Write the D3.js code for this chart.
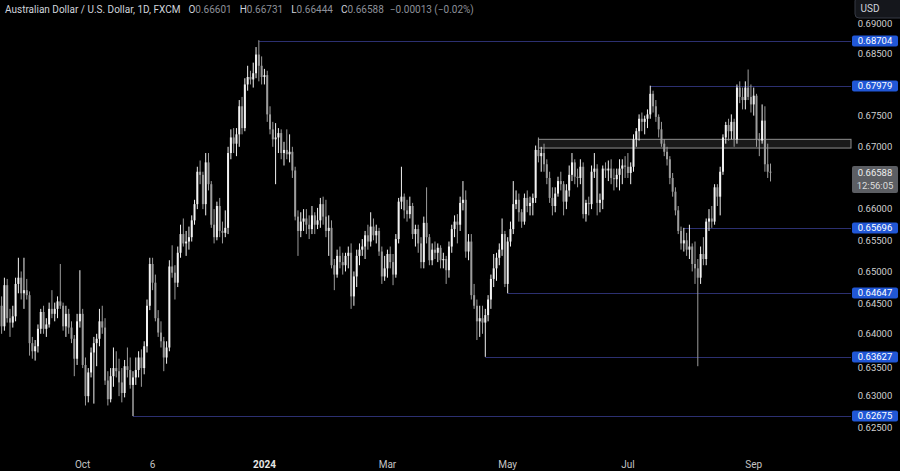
<!DOCTYPE html>
<html>
<head>
<meta charset="utf-8">
<script src="https://cdn.jsdelivr.net/npm/d3@7"></script>
<style>
html, body { margin: 0; padding: 0; background: #000; }
svg { display: block; font-family: Roboto, "Noto Sans", sans-serif; }
</style>
</head>
<body>
<div id="chart"></div>
<script>
// daily AUD/USD, 22 Aug 2023 .. 10 Sep 2024 (weekdays)
var firstDay = "2023-08-22",
    lastDay = "2024-09-10";

var opens = [
 0.6445,0.6412,0.6478,0.6425,0.6418,0.6428,0.6480,0.6490,0.6465,0.6470,
 0.6462,0.6385,0.6372,0.6380,0.6408,0.6435,0.6408,0.6415,0.6440,0.6432,
 0.6440,0.6452,0.6445,0.6412,0.6432,0.6410,0.6392,0.6360,0.6420,0.6432,
 0.6350,0.6300,0.6338,0.6370,0.6385,0.6392,0.6420,0.6410,0.6325,0.6295,
 0.6332,0.6345,0.6340,0.6322,0.6305,0.6348,0.6342,0.6318,0.6330,0.6342,
 0.6362,0.6345,0.6380,0.6445,0.6512,0.6482,0.6425,0.6402,0.6388,0.6362,
 0.6378,0.6508,0.6498,0.6482,0.6530,0.6560,0.6545,0.6548,0.6555,0.6582,
 0.6608,0.6660,0.6655,0.6608,0.6675,0.6640,0.6575,0.6555,0.6605,0.6565,
 0.6562,0.6570,0.6690,0.6715,0.6705,0.6720,0.6765,0.6730,0.6800,0.6812,
 0.6808,0.6818,0.6848,0.6830,0.6812,0.6815,0.6752,0.6728,0.6712,0.6715,
 0.6722,0.6690,0.6695,0.6688,0.6692,0.6662,0.6588,0.6565,0.6580,0.6585,
 0.6575,0.6568,0.6590,0.6575,0.6582,0.6608,0.6588,0.6565,0.6570,0.6510,
 0.6495,0.6525,0.6515,0.6510,0.6525,0.6530,0.6460,0.6492,0.6525,0.6535,
 0.6540,0.6558,0.6548,0.6572,0.6558,0.6565,0.6532,0.6492,0.6505,0.6528,
 0.6515,0.6495,0.6552,0.6612,0.6620,0.6598,0.6592,0.6605,0.6560,0.6568,
 0.6545,0.6515,0.6578,0.6555,0.6518,0.6535,0.6530,0.6538,0.6518,0.6520,
 0.6502,0.6540,0.6568,0.6580,0.6575,0.6610,0.6615,0.6532,0.6548,0.6462,
 0.6445,0.6420,0.6425,0.6418,0.6430,0.6455,0.6488,0.6505,0.6522,0.6535,
 0.6560,0.6480,0.6548,0.6568,0.6608,0.6615,0.6595,0.6580,0.6618,0.6605,
 0.6610,0.6618,0.6695,0.6685,0.6690,0.6672,0.6650,0.6618,0.6605,0.6625,
 0.6645,0.6640,0.6612,0.6630,0.6655,0.6675,0.6652,0.6650,0.6668,0.6592,
 0.6610,0.6608,0.6660,0.6665,0.6610,0.6615,0.6665,0.6662,0.6665,0.6650,
 0.6648,0.6655,0.6665,0.6670,0.6668,0.6658,0.6668,0.6712,0.6725,0.6745,
 0.6740,0.6745,0.6752,0.6785,0.6765,0.6748,0.6728,0.6705,0.6692,0.6680,
 0.6650,0.6628,0.6598,0.6565,0.6545,0.6550,0.6535,0.6540,0.6512,0.6505,
 0.6490,0.6528,0.6520,0.6580,0.6585,0.6580,0.6635,0.6620,0.6660,0.6715,
 0.6735,0.6725,0.6740,0.6712,0.6795,0.6780,0.6775,0.6795,0.6780,0.6768,
 0.6782,0.6712,0.6710,0.6742,0.6672,0.66601
];

var highs = [
 0.6460,0.6490,0.6488,0.6440,0.6445,0.6490,0.6522,0.6500,0.6522,0.6488,
 0.6468,0.6395,0.6390,0.6415,0.6440,0.6445,0.6425,0.6450,0.6470,0.6450,
 0.6460,0.6512,0.6450,0.6445,0.6440,0.6420,0.6398,0.6432,0.6502,0.6440,
 0.6362,0.6345,0.6378,0.6395,0.6400,0.6440,0.6445,0.6425,0.6340,0.6345,
 0.6378,0.6372,0.6360,0.6345,0.6358,0.6378,0.6362,0.6340,0.6362,0.6372,
 0.6375,0.6388,0.6455,0.6522,0.6522,0.6495,0.6438,0.6420,0.6395,0.6388,
 0.6518,0.6542,0.6510,0.6540,0.6575,0.6585,0.6565,0.6572,0.6590,0.6615,
 0.6668,0.6678,0.6660,0.6690,0.6690,0.6645,0.6600,0.6612,0.6618,0.6580,
 0.6598,0.6700,0.6728,0.6730,0.6730,0.6775,0.6780,0.6810,0.6830,0.6822,
 0.6835,0.6860,0.6871,0.6845,0.6825,0.6822,0.6765,0.6740,0.6738,0.6730,
 0.6728,0.6708,0.6728,0.6720,0.6700,0.6668,0.6598,0.6595,0.6600,0.6600,
 0.6590,0.6605,0.6595,0.6602,0.6618,0.6620,0.6615,0.6590,0.6582,0.6520,
 0.6535,0.6540,0.6530,0.6530,0.6540,0.6545,0.6500,0.6535,0.6545,0.6552,
 0.6565,0.6575,0.6595,0.6585,0.6575,0.6570,0.6540,0.6525,0.6535,0.6540,
 0.6528,0.6560,0.6618,0.6668,0.6625,0.6615,0.6620,0.6610,0.6575,0.6575,
 0.6555,0.6588,0.6635,0.6560,0.6545,0.6548,0.6545,0.6542,0.6530,0.6525,
 0.6548,0.6575,0.6590,0.6592,0.6620,0.6645,0.6630,0.6560,0.6560,0.6480,
 0.6455,0.6445,0.6445,0.6440,0.6462,0.6495,0.6528,0.6530,0.6545,0.6585,
 0.6565,0.6555,0.6580,0.6645,0.6630,0.6625,0.6600,0.6625,0.6630,0.6620,
 0.6625,0.6702,0.6715,0.6700,0.6705,0.6680,0.6660,0.6635,0.6635,0.6652,
 0.6660,0.6645,0.6640,0.6670,0.6690,0.6680,0.6665,0.6680,0.6675,0.6615,
 0.6620,0.6670,0.6690,0.6672,0.6625,0.6670,0.6675,0.6678,0.6680,0.6665,
 0.6665,0.6680,0.6680,0.6685,0.6690,0.6675,0.6720,0.6730,0.6752,0.6755,
 0.6750,0.6760,0.6798,0.6790,0.6775,0.6752,0.6740,0.6712,0.6700,0.6685,
 0.6658,0.6635,0.6605,0.6572,0.6570,0.6562,0.6575,0.6545,0.6548,0.6520,
 0.6540,0.6555,0.6585,0.6600,0.6605,0.6640,0.6640,0.6668,0.6720,0.6740,
 0.6745,0.6752,0.6745,0.6800,0.6805,0.6795,0.6805,0.6824,0.6800,0.6795,
 0.6785,0.6722,0.6768,0.6765,0.6705,0.66731
];

var lows = [
 0.6400,0.6405,0.6418,0.6395,0.6410,0.6420,0.6465,0.6455,0.6440,0.6455,
 0.6365,0.6360,0.6357,0.6370,0.6400,0.6400,0.6395,0.6410,0.6425,0.6420,
 0.6425,0.6440,0.6405,0.6395,0.6400,0.6385,0.6332,0.6350,0.6410,0.6345,
 0.6285,0.6290,0.6330,0.6288,0.6348,0.6380,0.6400,0.6318,0.6285,0.6290,
 0.6315,0.6330,0.6300,0.6290,0.6298,0.6330,0.6312,0.6268,0.6318,0.6330,
 0.6315,0.6335,0.6370,0.6438,0.6470,0.6420,0.6395,0.6378,0.6340,0.6352,
 0.6372,0.6490,0.6455,0.6475,0.6522,0.6540,0.6525,0.6535,0.6548,0.6575,
 0.6600,0.6640,0.6600,0.6590,0.6630,0.6570,0.6545,0.6550,0.6555,0.6545,
 0.6555,0.6560,0.6680,0.6690,0.6685,0.6700,0.6720,0.6725,0.6790,0.6800,
 0.6795,0.6810,0.6805,0.6800,0.6800,0.6740,0.6720,0.6700,0.6640,0.6690,
 0.6680,0.6670,0.6680,0.6675,0.6650,0.6582,0.6525,0.6555,0.6565,0.6560,
 0.6552,0.6560,0.6560,0.6568,0.6570,0.6575,0.6555,0.6525,0.6505,0.6470,
 0.6490,0.6505,0.6495,0.6500,0.6505,0.6440,0.6445,0.6475,0.6510,0.6525,
 0.6520,0.6535,0.6540,0.6550,0.6545,0.6525,0.6480,0.6485,0.6490,0.6505,
 0.6478,0.6490,0.6545,0.6600,0.6585,0.6580,0.6585,0.6552,0.6540,0.6530,
 0.6505,0.6505,0.6545,0.6510,0.6510,0.6520,0.6515,0.6505,0.6505,0.6480,
 0.6490,0.6530,0.6555,0.6545,0.6565,0.6598,0.6522,0.6518,0.6455,0.6440,
 0.6390,0.6395,0.6400,0.6363,0.6420,0.6440,0.6475,0.6485,0.6510,0.6525,
 0.6475,0.6465,0.6540,0.6560,0.6600,0.6580,0.6570,0.6575,0.6595,0.6590,
 0.6590,0.6610,0.6675,0.6660,0.6660,0.6640,0.6610,0.6590,0.6595,0.6620,
 0.6630,0.6590,0.6600,0.6620,0.6645,0.6640,0.6635,0.6640,0.6585,0.6580,
 0.6590,0.6600,0.6650,0.6590,0.6595,0.6600,0.6650,0.6645,0.6640,0.6630,
 0.6635,0.6630,0.6640,0.6650,0.6650,0.6640,0.6660,0.6700,0.6710,0.6725,
 0.6720,0.6730,0.6745,0.6755,0.6740,0.6715,0.6700,0.6685,0.6670,0.6640,
 0.6620,0.6590,0.6560,0.6535,0.6532,0.6525,0.6520,0.6500,0.6480,0.6348,
 0.6480,0.6510,0.6510,0.6565,0.6570,0.6575,0.6605,0.6590,0.6655,0.6705,
 0.6710,0.6712,0.6700,0.6705,0.6770,0.6760,0.6760,0.6775,0.6755,0.6750,
 0.6700,0.6685,0.6705,0.6660,0.6650,0.66444
];

var closes = [
 0.6412,0.6478,0.6425,0.6418,0.6428,0.6480,0.6490,0.6465,0.6470,0.6462,
 0.6385,0.6372,0.6380,0.6408,0.6435,0.6408,0.6415,0.6440,0.6432,0.6440,
 0.6452,0.6445,0.6412,0.6432,0.6410,0.6392,0.6360,0.6420,0.6432,0.6350,
 0.6300,0.6338,0.6370,0.6385,0.6392,0.6420,0.6410,0.6325,0.6295,0.6332,
 0.6345,0.6340,0.6322,0.6305,0.6348,0.6342,0.6318,0.6330,0.6342,0.6362,
 0.6345,0.6380,0.6445,0.6512,0.6482,0.6425,0.6402,0.6388,0.6362,0.6378,
 0.6508,0.6498,0.6482,0.6530,0.6560,0.6545,0.6548,0.6555,0.6582,0.6608,
 0.6660,0.6655,0.6608,0.6675,0.6640,0.6575,0.6555,0.6605,0.6565,0.6562,
 0.6570,0.6690,0.6715,0.6705,0.6720,0.6765,0.6730,0.6800,0.6812,0.6808,
 0.6818,0.6848,0.6830,0.6812,0.6815,0.6752,0.6728,0.6712,0.6715,0.6722,
 0.6690,0.6695,0.6688,0.6692,0.6662,0.6588,0.6565,0.6580,0.6585,0.6575,
 0.6568,0.6590,0.6575,0.6582,0.6608,0.6588,0.6565,0.6570,0.6510,0.6495,
 0.6525,0.6515,0.6510,0.6525,0.6530,0.6460,0.6492,0.6525,0.6535,0.6540,
 0.6558,0.6548,0.6572,0.6558,0.6565,0.6532,0.6492,0.6505,0.6528,0.6515,
 0.6495,0.6552,0.6612,0.6620,0.6598,0.6592,0.6605,0.6560,0.6568,0.6545,
 0.6515,0.6578,0.6555,0.6518,0.6535,0.6530,0.6538,0.6518,0.6520,0.6502,
 0.6540,0.6568,0.6580,0.6575,0.6610,0.6615,0.6532,0.6548,0.6462,0.6445,
 0.6420,0.6425,0.6418,0.6430,0.6455,0.6488,0.6505,0.6522,0.6535,0.6560,
 0.6480,0.6548,0.6568,0.6608,0.6615,0.6595,0.6580,0.6618,0.6605,0.6610,
 0.6618,0.6695,0.6685,0.6690,0.6672,0.6650,0.6618,0.6605,0.6625,0.6645,
 0.6640,0.6612,0.6630,0.6655,0.6675,0.6652,0.6650,0.6668,0.6592,0.6610,
 0.6608,0.6660,0.6665,0.6610,0.6615,0.6665,0.6662,0.6665,0.6650,0.6648,
 0.6655,0.6665,0.6670,0.6668,0.6658,0.6668,0.6712,0.6725,0.6745,0.6740,
 0.6745,0.6752,0.6785,0.6765,0.6748,0.6728,0.6705,0.6692,0.6680,0.6650,
 0.6628,0.6598,0.6565,0.6545,0.6550,0.6535,0.6540,0.6512,0.6505,0.6490,
 0.6528,0.6520,0.6580,0.6585,0.6580,0.6635,0.6620,0.6660,0.6715,0.6735,
 0.6725,0.6740,0.6712,0.6795,0.6780,0.6775,0.6795,0.6780,0.6768,0.6782,
 0.6712,0.6710,0.6742,0.6672,0.6660,0.66588
];

// horizontal levels drawn on the chart and the day each one starts
var levels = [0.68704, 0.67979, 0.65696, 0.64647, 0.63627, 0.62675];
var levelStarts = ["2023-12-28", "2024-07-11", "2024-07-29", "2024-05-01", "2024-04-19", "2023-10-26"];

// grey resistance zone
var zoneTop = 0.6712, zoneBottom = 0.6698, zoneStart = "2024-05-16";

var priceTicks = [0.625, 0.630, 0.635, 0.640, 0.645, 0.650, 0.655, 0.660, 0.665, 0.670, 0.675, 0.680, 0.685, 0.690];
var timeTickDates = ["2023-10-02", "2023-11-06", "2024-01-01", "2024-03-01", "2024-05-01", "2024-07-01", "2024-09-02"];
var timeTickLabels = ["Oct", "6", "2024", "Mar", "May", "Jul", "Sep"];

var lastPrice = 0.66588, countdown = "12:56:05", lastChange = "\u22120.00013 (\u22120.02%)";

(function () {
    var width = 900,
        height = 471,
        plotRight = 851;

    var fmtDay = d3.utcFormat("%Y-%m-%d");
    var dates = d3.utcDay.range(new Date(firstDay + "T00:00Z"), new Date(lastDay + "T00:00Z"), 1)
        .concat([new Date(lastDay + "T00:00Z")])
        .filter(function (d) { return d.getUTCDay() !== 0 && d.getUTCDay() !== 6; })
        .map(fmtDay);

    function dayIndex(s) {
        return dates.indexOf(s);
    }

    var x = d3.scaleLinear().domain([0, closes.length - 1]).range([1.6, 770.5]);
    var y = d3.scaleLinear().domain([0.625, 0.685]).range([427.3, 53.3]);

    var svg = d3.select("#chart")
        .append("svg")
        .attr("width", width)
        .attr("height", height);

    svg.append("rect")
        .attr("width", width)
        .attr("height", height)
        .attr("fill", "#000");

    // zone
    svg.append("rect")
        .attr("x", x(dayIndex(zoneStart)))
        .attr("y", y(zoneTop))
        .attr("width", plotRight - x(dayIndex(zoneStart)))
        .attr("height", y(zoneBottom) - y(zoneTop))
        .attr("fill", "#1a1a1a")
        .attr("stroke", "#8f8f8f")
        .attr("stroke-width", 1);

    // level lines
    svg.selectAll(".level")
        .data(levels)
        .enter().append("line")
        .attr("class", "level")
        .attr("x1", function (d, i) { return x(dayIndex(levelStarts[i])); })
        .attr("x2", plotRight)
        .attr("y1", function (d) { return Math.round(y(d)) + 0.5; })
        .attr("y2", function (d) { return Math.round(y(d)) + 0.5; })
        .attr("stroke", "#2c3070")
        .attr("stroke-width", 1);

    // candles
    var idx = d3.range(closes.length);
    var colour = function (i) { return closes[i] >= opens[i] ? "#f2f2f2" : "#9c9c9c"; };

    svg.selectAll(".wick")
        .data(idx)
        .enter().append("line")
        .attr("class", "wick")
        .attr("x1", function (i) { return x(i); })
        .attr("x2", function (i) { return x(i); })
        .attr("y1", function (i) { return y(highs[i]); })
        .attr("y2", function (i) { return y(lows[i]); })
        .attr("stroke", colour)
        .attr("stroke-width", 1);

    svg.selectAll(".body")
        .data(idx)
        .enter().append("rect")
        .attr("class", "body")
        .attr("x", function (i) { return x(i) - 1; })
        .attr("width", 2)
        .attr("y", function (i) { return y(Math.max(opens[i], closes[i])); })
        .attr("height", function (i) {
            return Math.max(1, Math.abs(y(opens[i]) - y(closes[i])));
        })
        .attr("fill", colour);

    // price axis: boxes on the axis hide the ticks they sit on
    var fmt = d3.format(".5f");
    var tagH = 11, lastH = 27;
    var boxes = levels.map(function (d) {
        return [Math.round(y(d)) - tagH / 2, Math.round(y(d)) + tagH / 2];
    });
    boxes.push([y(lastPrice) - 6.5, y(lastPrice) - 6.5 + lastH]);
    boxes.push([-3, 18]);

    var tickPos = [];
    priceTicks.forEach(function (d) {
        var cy = y(d), hidden = false;
        boxes.forEach(function (b) {
            if (cy >= b[0] && cy <= b[1]) hidden = true;
            else if (cy > b[1] && cy - 5.5 < b[1]) cy = b[1] + 5.5;
            else if (cy < b[0] && cy + 5.5 > b[0]) cy = b[0] - 5.5;
        });
        if (!hidden) tickPos.push({ v: d, y: cy });
    });

    svg.selectAll(".ptick")
        .data(tickPos)
        .enter().append("text")
        .attr("class", "ptick")
        .attr("x", 875)
        .attr("y", function (d) { return d.y; })
        .attr("dy", "0.35em")
        .attr("text-anchor", "middle")
        .attr("font-size", 9.5)
        .attr("fill", "#cfcfcf")
        .text(function (d) { return fmt(d.v); });

    var tags = svg.selectAll(".tag")
        .data(levels)
        .enter().append("g")
        .attr("class", "tag")
        .attr("transform", function (d) { return "translate(852," + Math.round(y(d)) + ")"; });
    tags.append("rect")
        .attr("x", 0)
        .attr("y", -tagH / 2)
        .attr("width", 46)
        .attr("height", tagH)
        .attr("rx", 2)
        .attr("fill", "#2157d6");
    tags.append("text")
        .attr("x", 23)
        .attr("dy", "0.35em")
        .attr("text-anchor", "middle")
        .attr("font-size", 9.5)
        .attr("fill", "#fff")
        .text(fmt);

    // last price box
    var ly = y(lastPrice);
    svg.append("rect")
        .attr("x", 852)
        .attr("y", ly - 6.5)
        .attr("width", 46)
        .attr("height", lastH)
        .attr("rx", 2)
        .attr("fill", "#5c5e63");
    svg.append("text")
        .attr("x", 875)
        .attr("y", ly)
        .attr("dy", "0.35em")
        .attr("text-anchor", "middle")
        .attr("font-size", 9.5)
        .attr("fill", "#eee")
        .text(fmt(lastPrice));
    svg.append("text")
        .attr("x", 875)
        .attr("y", ly + 13)
        .attr("dy", "0.35em")
        .attr("text-anchor", "middle")
        .attr("font-size", 9.5)
        .attr("fill", "#ddd")
        .text(countdown);

    // currency box
    svg.append("rect")
        .attr("x", 855)
        .attr("y", -3)
        .attr("width", 50)
        .attr("height", 21)
        .attr("rx", 4)
        .attr("fill", "#15171c")
        .attr("stroke", "#363a45");
    svg.append("text")
        .attr("x", 870)
        .attr("y", 8.5)
        .attr("dy", "0.35em")
        .attr("text-anchor", "middle")
        .attr("font-size", 10)
        .attr("fill", "#d1d4dc")
        .text("USD");

    // time axis
    svg.selectAll(".ttick")
        .data(timeTickDates)
        .enter().append("text")
        .attr("class", "ttick")
        .attr("x", function (d) { return x(dayIndex(d)); })
        .attr("y", 464)
        .attr("dy", "0.35em")
        .attr("text-anchor", "middle")
        .attr("font-size", 10)
        .attr("font-weight", function (d, i) { return timeTickLabels[i] === "2024" ? "bold" : "normal"; })
        .attr("fill", function (d, i) { return timeTickLabels[i] === "2024" ? "#e6e6e6" : "#c4c4c4"; })
        .text(function (d, i) { return timeTickLabels[i]; });

    // header
    var last = closes.length - 1;
    var head = svg.append("text")
        .attr("x", 5)
        .attr("y", 9)
        .attr("dy", "0.35em")
        .attr("font-size", 10)
        .attr("fill", "#d1d4dc");
    head.append("tspan").text("Australian Dollar / U.S. Dollar, 1D, FXCM");
    [["O", opens[last]], ["H", highs[last]], ["L", lows[last]], ["C", closes[last]]].forEach(function (p) {
        head.append("tspan").attr("dx", 8).text(p[0]);
        head.append("tspan").attr("fill", "#8d9099").text(fmt(p[1]));
    });
    head.append("tspan").attr("dx", 6).attr("fill", "#8d9099").text(lastChange);
})();
</script>
</body>
</html>
